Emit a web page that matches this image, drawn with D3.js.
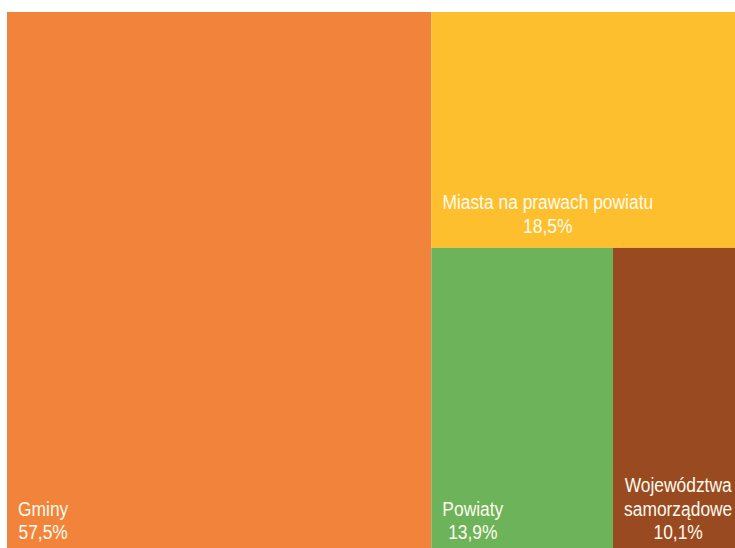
<!DOCTYPE html>
<html>
<head>
<meta charset="utf-8">
<script src="https://cdn.jsdelivr.net/npm/d3@7"></script>
<style>
body{margin:0;background:#fff;overflow:hidden;}
svg{display:block;}
text{font-family:"Liberation Sans",Arial,sans-serif;fill:#fffbef;}
</style>
</head>
<body>
<div id="chart"></div>
<script>
// kategorie i udzialy (%)
var names=["Gminy","Miasta na prawach powiatu","Powiaty","Województwa samorządowe"];
var values=[57.5,18.5,13.9,10.1];
var labels=["57,5%","18,5%","13,9%","10,1%"];
var colors=["#F2833B","#FDBF2D","#6DB35A","#9A4A20"];

var W=735,H=548;
var left_off=7,top_off=12;
var svg=d3.select("#chart").append("svg")
	.attr("width",W)
	.attr("height",H);

var leaf=function(i){return {name:names[i],value:values[i],label:labels[i],color:colors[i]};};
// uklad: kolumna Gminy | (Miasta nad (Powiaty | Wojewodztwa))
var tree={children:[leaf(0),{children:[leaf(1),{children:[leaf(2),leaf(3)]}]}]};
var root=d3.hierarchy(tree).sum(function(d){return d.value||0;});

// obszar wykresu wychodzi troche poza okno
d3.treemap()
	.tile(d3.treemapSliceDice)
	.size([738,542])
	.round(false)(root);

var g=svg.append("g").attr("transform","translate("+left_off+","+top_off+")");

var cell=g.selectAll("g.cell")
	.data(root.leaves())
	.enter()
	.append("g")
	.attr("class","cell");

cell.append("rect")
	.attr("x",function(d){return d.x0;})
	.attr("y",function(d){return d.y0;})
	.attr("width",function(d){return d.x1-d.x0;})
	.attr("height",function(d){return d.y1-d.y0;})
	.attr("fill",function(d){return d.data.color;});

var fs=20,sx=0.87,lh=23.5,pad=11;
cell.each(function(d){
	var sel=d3.select(this);
	var maxW=d.x1-d.x0-pad;
	var probe=sel.append("text").attr("font-size",fs);
	var len=function(s){probe.text(s);return probe.node().getComputedTextLength()*sx;};
	// zawijanie nazw po slowach
	var words=d.data.name.split(" ");
	var lines=[];
	var cur="";
	words.forEach(function(w){
		var t=cur?cur+" "+w:w;
		if(len(t)>maxW&&cur){lines.push(cur);cur=w;}
		else{cur=t;}
	});
	lines.push(cur);
	lines.push(d.data.label);
	var bw=d3.max(lines,len);
	probe.remove();
	var cx=d.x0+pad+bw/2;
	var base=d.y1-15;
	lines.forEach(function(l,i){
		sel.append("text")
			.attr("transform","translate("+cx+","+(base-(lines.length-1-i)*lh)+") scale("+sx+",1)")
			.attr("text-anchor","middle")
			.attr("font-size",fs)
			.text(l);
	});
});
</script>
</body>
</html>
